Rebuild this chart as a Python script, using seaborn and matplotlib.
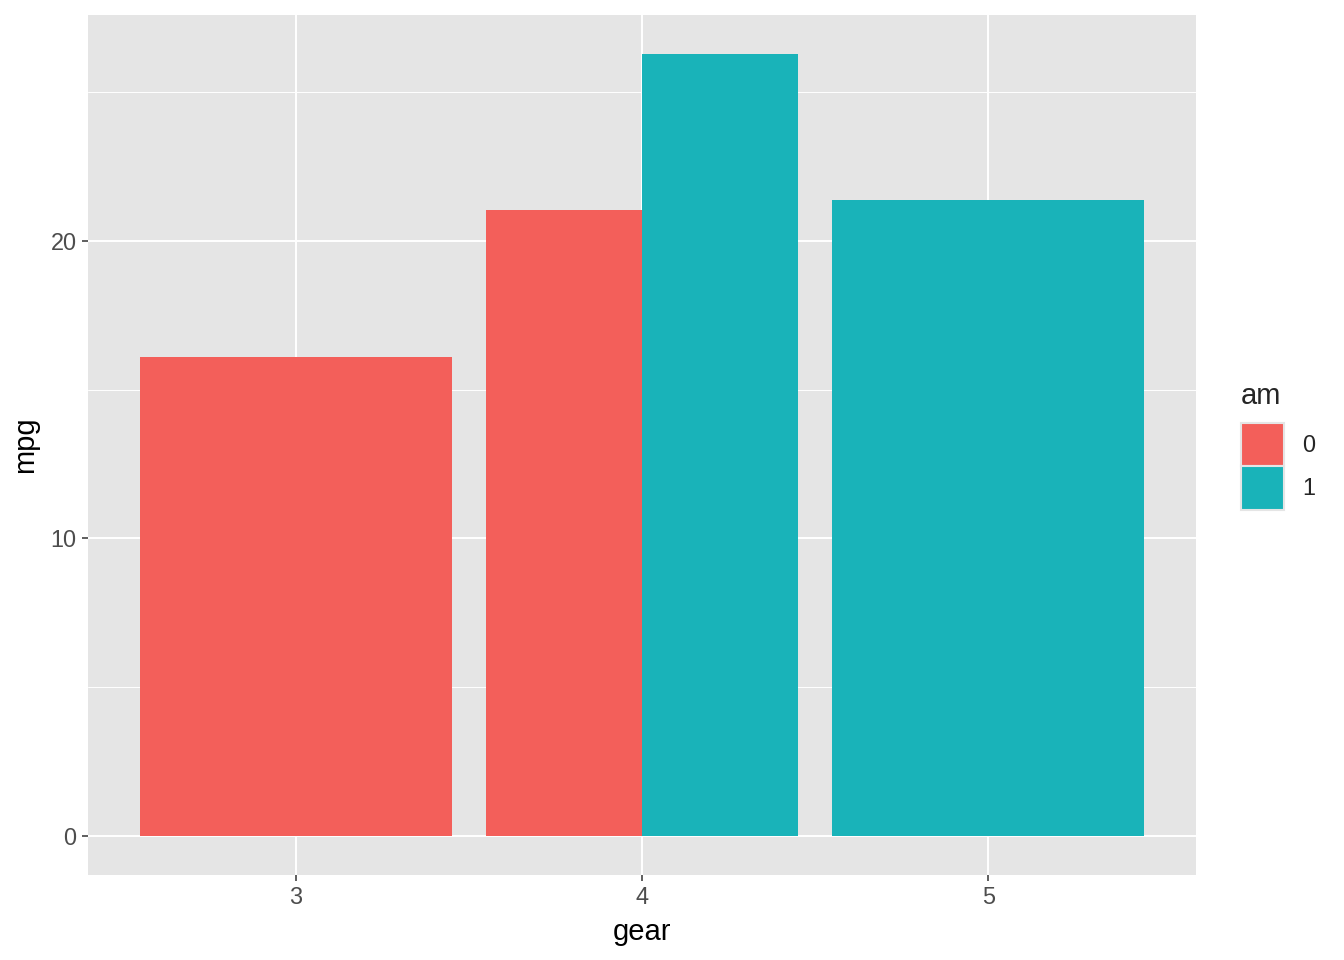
import numpy as np
import pandas as pd
import matplotlib
matplotlib.use("Agg")
import matplotlib.pyplot as plt
from matplotlib.patches import Patch
from matplotlib.ticker import MultipleLocator
import seaborn as sns

# Data: mean mpg by gear and am (mtcars)
gears = [3, 4, 4, 5]
am = ["0", "0", "1", "1"]
mpg = [16.11, 21.05, 26.28, 21.38]
am_levels = ["0", "1"]
am_colors = ["#F35F5A", "#19B3B9"]
gear_ticks = [3, 4, 5]

df = pd.DataFrame({"gear": gears, "am": am, "mpg": mpg})

sns.set_theme(style="darkgrid")
plt.rcParams["font.family"] = ["Liberation Sans", "DejaVu Sans"]

fig = plt.figure(figsize=(13.44, 9.6), dpi=100)
ax = fig.add_axes([88 / 1344, 1 - 875 / 960, (1196 - 88) / 1344, (875 - 15) / 960])
ax.set_facecolor("#E5E5E5")

palette = dict(zip(am_levels, am_colors))
total_width = 0.9
for g, sub in df.groupby("gear"):
    sub = sub.sort_values("am")
    n = len(sub)
    w = total_width / n
    for i, (_, row) in enumerate(sub.iterrows()):
        pos = g - total_width / 2 + w * (i + 0.5)
        ax.bar(pos, row["mpg"], width=w, color=palette[row["am"]],
               linewidth=0, zorder=3)

ax.set_xlim(2.4, 5.6)
ymax = df["mpg"].max()
ax.set_ylim(-0.05 * ymax, ymax * 1.05)
ax.set_xticks(gear_ticks)
ax.set_xticklabels([str(g) for g in gear_ticks])
ax.yaxis.set_major_locator(MultipleLocator(10))
ax.yaxis.set_minor_locator(MultipleLocator(5))

ax.grid(which="major", color="white", linewidth=1.4, zorder=0)
ax.grid(which="minor", axis="y", color="white", linewidth=0.7, zorder=0)
ax.set_axisbelow(True)
for s in ax.spines.values():
    s.set_visible(False)

ax.tick_params(axis="both", which="major", length=4.2, width=1.1,
               color="#333333", labelcolor="#4D4D4D", labelsize=16.9,
               direction="out", pad=4, bottom=True, left=True)
ax.tick_params(axis="y", which="minor", length=0)

ax.set_xlabel("gear", fontsize=21, color="black", labelpad=6)
ax.set_ylabel("mpg", fontsize=21, color="black", labelpad=8)

handles = [Patch(facecolor=c, edgecolor="#E5E5E5", linewidth=1.5, label=l)
           for l, c in zip(am_levels, am_colors)]
leg = fig.legend(handles=handles, title="am", loc="upper left",
                 bbox_to_anchor=(1241 / 1344, 1 - 382 / 960),
                 frameon=False, fontsize=16.9, title_fontsize=21,
                 handlelength=1.85, handleheight=2.5, handletextpad=0.75,
                 labelspacing=0.0, borderaxespad=0, borderpad=0)
leg._legend_box.align = "left"
leg._legend_box.sep = 9

fig.savefig("out.png", dpi=100)
